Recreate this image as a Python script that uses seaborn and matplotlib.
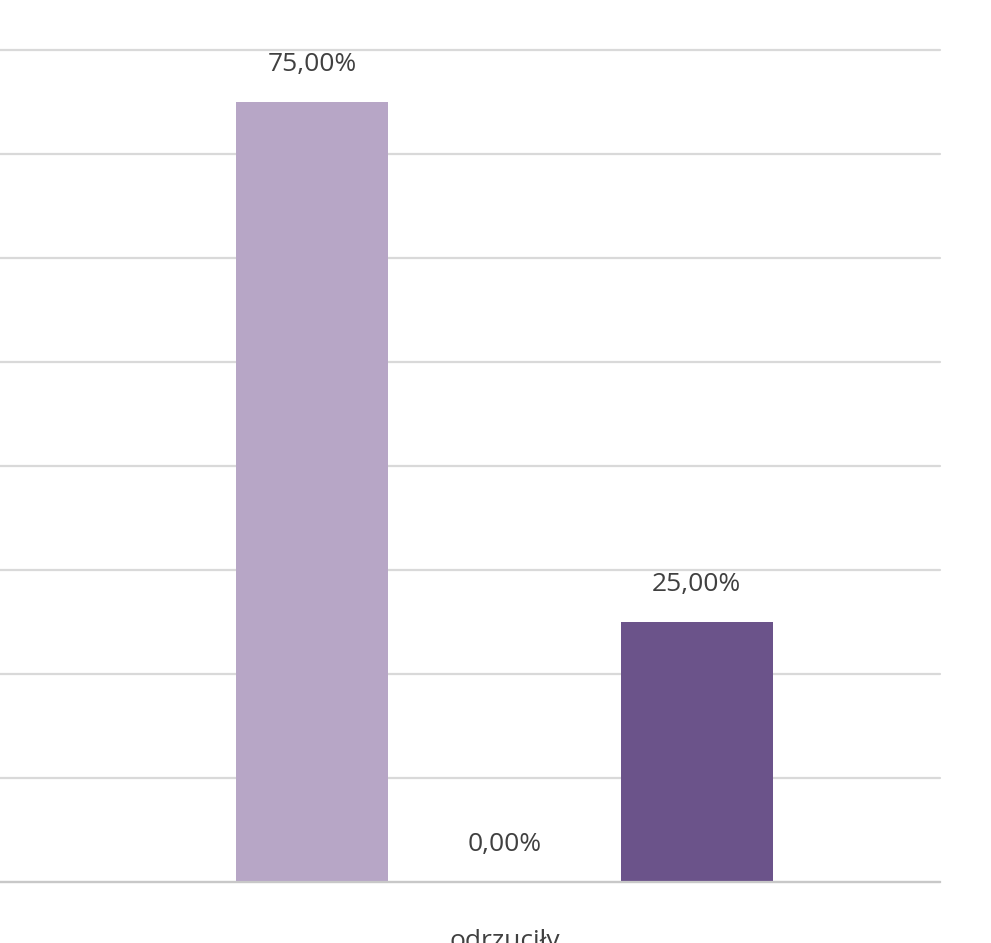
import matplotlib
matplotlib.use('Agg')
import matplotlib.pyplot as plt
import seaborn as sns
import pandas as pd

categories = ['odrzuciły', 'odrzuciły', 'odrzuciły']
groups = ['A', 'B', 'C']
values = [0.75, 0.0, 0.25]
labels = ['75,00%', '0,00%', '25,00%']
colors = ['#B7A1CB', '#8E6BAF', '#6A4A93']

df = pd.DataFrame({'cat': categories, 'grp': groups, 'val': values})

sns.set_style('white')
plt.rcParams['font.family'] = ['Open Sans', 'DejaVu Sans']

fig = plt.figure(figsize=(9.91, 9.43), dpi=100)
ax = fig.add_axes([0, 61 / 943, 940 / 991, 832 / 943])

sns.barplot(data=df, x='cat', y='val', hue='grp', palette=colors,
            width=0.8, gap=0.21, legend=False, linewidth=0, ax=ax)

for cont, lab in zip(ax.containers, labels):
    ax.bar_label(cont, labels=[lab], padding=18, fontsize=19, color='#404040')

ax.set_ylim(0, 0.8)
ax.set_xlim(-0.7, 0.604)
ax.set_yticks([i / 10 for i in range(9)])
ax.yaxis.grid(True, color='#D9D9D9', linewidth=1.6)
for gl in ax.get_ygridlines():
    gl.set_clip_on(False)
ax.set_axisbelow(True)
ax.tick_params(axis='y', left=False, labelleft=False)
ax.tick_params(axis='x', bottom=False, labelsize=19, labelcolor='#404040', pad=30)
ax.set_xlabel('')
ax.set_ylabel('')
for s in ['top', 'left', 'right']:
    ax.spines[s].set_visible(False)
ax.spines['bottom'].set_color('#C8C8C8')
ax.spines['bottom'].set_linewidth(1.6)

fig.savefig('out.png', dpi=100)
